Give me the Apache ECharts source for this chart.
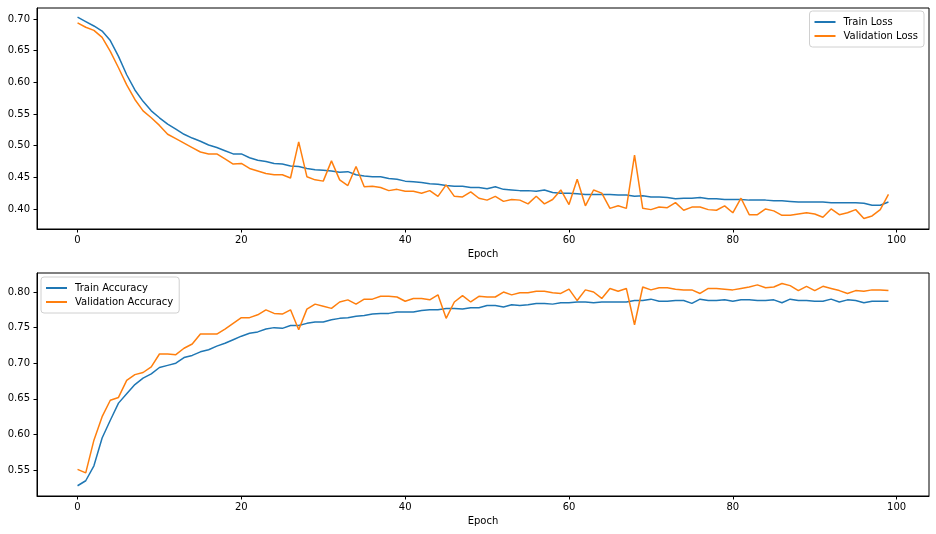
<!DOCTYPE html>
<html>
<head>
<meta charset="utf-8">
<script src="https://cdn.jsdelivr.net/npm/echarts@6/dist/echarts.min.js"></script>
<style>html,body{margin:0;padding:0;background:#fff}#c{width:936px;height:534px}</style>
</head>
<body>
<div id="c"></div>
<script>
const epochs = Array.from({length: 100}, (_, i) => i);
const trainLoss = [0.703,0.696,0.689,0.681,0.666,0.641,0.612,0.588,0.570,0.555,0.544,0.534,0.526,0.518,0.512,0.507,0.501,0.497,0.492,0.487,0.487,0.481,0.477,0.475,0.472,0.471,0.468,0.467,0.464,0.462,0.461,0.460,0.458,0.459,0.454,0.452,0.451,0.451,0.448,0.447,0.444,0.443,0.442,0.440,0.439,0.437,0.436,0.436,0.434,0.434,0.432,0.435,0.431,0.430,0.429,0.429,0.428,0.430,0.426,0.425,0.425,0.424,0.423,0.423,0.423,0.423,0.422,0.422,0.420,0.421,0.419,0.419,0.418,0.416,0.417,0.417,0.418,0.416,0.416,0.415,0.415,0.415,0.414,0.414,0.414,0.413,0.413,0.412,0.411,0.411,0.411,0.411,0.410,0.410,0.410,0.410,0.409,0.406,0.406,0.411];
const valLoss = [0.694,0.687,0.682,0.671,0.649,0.623,0.596,0.573,0.555,0.544,0.532,0.518,0.511,0.504,0.497,0.490,0.487,0.487,0.479,0.471,0.472,0.464,0.460,0.456,0.454,0.454,0.449,0.506,0.451,0.446,0.444,0.476,0.446,0.437,0.467,0.435,0.436,0.434,0.429,0.431,0.428,0.428,0.425,0.429,0.420,0.438,0.420,0.419,0.427,0.417,0.414,0.420,0.412,0.415,0.414,0.408,0.420,0.408,0.415,0.430,0.407,0.447,0.405,0.430,0.425,0.401,0.405,0.401,0.485,0.401,0.399,0.403,0.402,0.410,0.398,0.403,0.403,0.399,0.398,0.405,0.394,0.417,0.391,0.391,0.400,0.397,0.390,0.390,0.392,0.394,0.392,0.387,0.400,0.391,0.394,0.399,0.385,0.389,0.399,0.423];
const trainAcc = [0.528,0.535,0.556,0.595,0.620,0.644,0.657,0.670,0.679,0.685,0.694,0.697,0.700,0.708,0.711,0.716,0.719,0.724,0.728,0.733,0.738,0.742,0.744,0.748,0.750,0.749,0.753,0.753,0.756,0.758,0.758,0.761,0.763,0.764,0.766,0.767,0.769,0.770,0.770,0.772,0.772,0.772,0.774,0.775,0.775,0.777,0.777,0.776,0.778,0.778,0.781,0.781,0.779,0.782,0.781,0.782,0.784,0.784,0.783,0.785,0.785,0.786,0.786,0.785,0.786,0.786,0.786,0.786,0.788,0.788,0.790,0.787,0.787,0.788,0.788,0.784,0.790,0.788,0.788,0.789,0.787,0.789,0.789,0.788,0.788,0.789,0.785,0.790,0.788,0.788,0.787,0.787,0.790,0.786,0.789,0.788,0.785,0.787,0.787,0.787];
const valAcc = [0.551,0.546,0.592,0.625,0.648,0.652,0.676,0.684,0.687,0.695,0.713,0.713,0.712,0.721,0.727,0.741,0.741,0.741,0.748,0.756,0.764,0.764,0.768,0.775,0.770,0.769,0.775,0.747,0.776,0.783,0.780,0.777,0.786,0.789,0.783,0.790,0.790,0.794,0.794,0.793,0.787,0.791,0.791,0.789,0.796,0.763,0.786,0.795,0.786,0.794,0.793,0.793,0.800,0.796,0.799,0.799,0.801,0.801,0.799,0.798,0.804,0.788,0.803,0.800,0.791,0.805,0.801,0.805,0.754,0.807,0.803,0.806,0.806,0.804,0.803,0.803,0.798,0.805,0.805,0.804,0.803,0.805,0.807,0.810,0.806,0.807,0.812,0.809,0.802,0.808,0.802,0.808,0.805,0.802,0.798,0.802,0.801,0.803,0.803,0.802];
const xTicks = [0, 20, 40, 60, 80, 100];
const lossTicks = [0.40, 0.45, 0.50, 0.55, 0.60, 0.65, 0.70];
const accTicks = [0.55, 0.60, 0.65, 0.70, 0.75, 0.80];

const BLUE = '#1f77b4', ORANGE = '#ff7f0e';
const FONT = 'DejaVu Sans';
const pairs = arr => epochs.map((e, i) => [e, arr[i]]);

function xAx(gi) {
  return {
    type: 'value', gridIndex: gi, min: -4.95, max: 103.95,
    name: 'Epoch', nameLocation: 'middle', nameGap: 20,
    nameTextStyle: {fontFamily: FONT, fontSize: 10, color: '#000'},
    axisLine: {show: true, onZero: false, lineStyle: {color: '#000', width: 1}},
    axisTick: {show: true, length: 3.5, customValues: xTicks, lineStyle: {color: '#000'}},
    axisLabel: {customValues: xTicks, margin: 6, fontFamily: FONT, fontSize: 10, color: '#000'},
    splitLine: {show: false}
  };
}
function yAx(gi, mn, mx, ticks) {
  return {
    type: 'value', gridIndex: gi, min: mn, max: mx,
    axisLine: {show: true, onZero: false, lineStyle: {color: '#000', width: 1}},
    axisTick: {show: true, length: 3.5, customValues: ticks, lineStyle: {color: '#000'}},
    axisLabel: {customValues: ticks, margin: 7, fontFamily: FONT, fontSize: 10, color: '#000',
      formatter: v => v.toFixed(2)},
    splitLine: {show: false}
  };
}
function ser(name, data, color, xi) {
  return {
    name, type: 'line', xAxisIndex: xi, yAxisIndex: xi, data: pairs(data),
    showSymbol: false, symbol: 'none', smooth: false,
    lineStyle: {color, width: 1.5}, itemStyle: {color}, animation: false
  };
}
const legendCommon = {
  orient: 'vertical', icon: 'rect', itemWidth: 21, itemHeight: 2, itemGap: 2,
  padding: [5, 6, 5, 5], borderColor: '#d0d0d0', borderWidth: 1, borderRadius: 3,
  backgroundColor: '#fff',
  textStyle: {fontFamily: FONT, fontSize: 10, color: '#000', lineHeight: 12, padding: [0, 0, 0, 3]}
};

const chart = echarts.init(document.getElementById('c'), null, {renderer: 'canvas'});
chart.setOption({
  animation: false,
  backgroundColor: '#fff',
  grid: [
    {left: 37, top: 8, width: 892, height: 221, show: true, borderColor: '#000', borderWidth: 1, containLabel: false},
    {left: 37, top: 273, width: 892, height: 223, show: true, borderColor: '#000', borderWidth: 1, containLabel: false}
  ],
  xAxis: [xAx(0), xAx(1)],
  yAxis: [yAx(0, 0.3684, 0.7174, lossTicks), yAx(1, 0.5136, 0.8267, accTicks)],
  legend: [
    Object.assign({}, legendCommon, {right: 12, top: 11, data: ['Train Loss', 'Validation Loss']}),
    Object.assign({}, legendCommon, {left: 41, top: 277, data: ['Train Accuracy', 'Validation Accuracy']})
  ],
  series: [
    ser('Train Loss', trainLoss, BLUE, 0),
    ser('Validation Loss', valLoss, ORANGE, 0),
    ser('Train Accuracy', trainAcc, BLUE, 1),
    ser('Validation Accuracy', valAcc, ORANGE, 1)
  ]
});
</script>
</body>
</html>
